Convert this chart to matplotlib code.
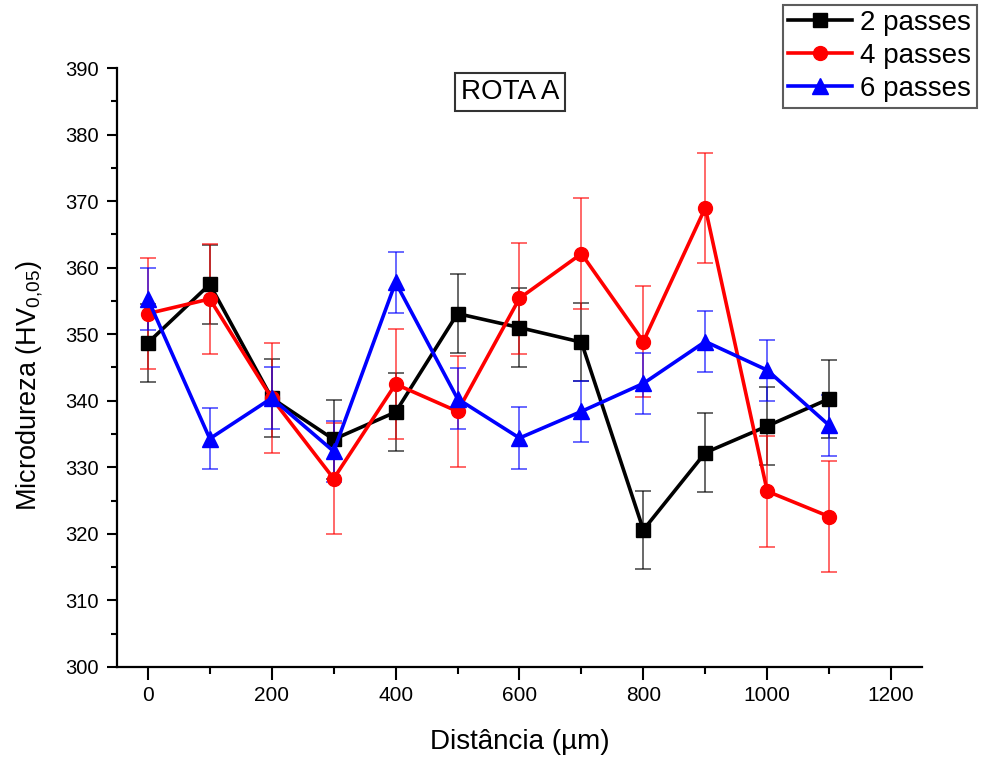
import numpy as np
import matplotlib
matplotlib.use("Agg")
import matplotlib.pyplot as plt
from matplotlib.ticker import MultipleLocator

plt.rcParams['font.family'] = ['Liberation Sans', 'DejaVu Sans']
plt.rcParams['mathtext.fontset'] = 'custom'
plt.rcParams['mathtext.rm'] = 'Liberation Sans'

# distance (um)
dist = [0, 100, 200, 300, 400, 500, 600, 700, 800, 900, 1000, 1100]

# microhardness HV0,05
hv_2 = [348.7, 357.5, 340.4, 334.2, 338.3, 353.1, 351.0, 348.8, 320.6, 332.2, 336.2, 340.3]
hv_4 = [353.1, 355.3, 340.4, 328.3, 342.5, 338.4, 355.4, 362.1, 348.9, 369.0, 326.4, 322.6]
hv_6 = [355.3, 334.3, 340.4, 332.4, 357.8, 340.3, 334.4, 338.4, 342.6, 348.9, 344.6, 336.3]

err_2 = [5.9] * 12
err_4 = [8.3] * 12
err_6 = [4.6] * 12

labels = ['2 passes', '4 passes', '6 passes']

fig = plt.figure(figsize=(9.82, 7.6), dpi=100)
ax = fig.add_axes([0.119, 0.1224, 0.820, 0.7881])

series = [
    (hv_2, err_2, 'black', 's', 9.5),
    (hv_4, err_4, 'red', 'o', 10),
    (hv_6, err_6, 'blue', '^', 11),
]
handles = []
for (y, e, c, m, ms), lab in zip(series, labels):
    h = ax.errorbar(dist, y, yerr=e, color=c, ecolor=c, marker=m, markersize=ms,
                    linewidth=2.6, elinewidth=1.1, capsize=5.5, capthick=1.1,
                    label=lab)
    for art in h[1] + h[2]:
        art.set_alpha(0.75)
    handles.append(h[0])

ax.set_xlim(-50, 1250)
ax.set_ylim(300, 390)
ax.xaxis.set_major_locator(MultipleLocator(200))
ax.xaxis.set_minor_locator(MultipleLocator(100))
ax.yaxis.set_major_locator(MultipleLocator(10))
ax.yaxis.set_minor_locator(MultipleLocator(5))

for s in ['top', 'right']:
    ax.spines[s].set_visible(False)
for s in ['left', 'bottom']:
    ax.spines[s].set_linewidth(1.6)

ax.tick_params(axis='x', which='major', length=9, width=1.5, labelsize=15, pad=5)
ax.tick_params(axis='x', which='minor', length=5, width=1.5)
ax.tick_params(axis='y', which='major', length=7, width=1.5, labelsize=14.5, pad=6)
ax.tick_params(axis='y', which='minor', length=4, width=1.5)
for t in ax.get_xticklabels():
    t.set_family(['Liberation Sans Narrow', 'Liberation Sans'])

ax.set_xlabel('Distância (µm)', fontsize=20, labelpad=17)
ax.set_ylabel(r'Microdureza (HV$_{\mathrm{0{,}05}}$)', fontsize=19.5)
ax.yaxis.set_label_coords(-0.089, 0.47)

ax.text(0.488, 0.96, 'ROTA A', transform=ax.transAxes, ha='center', va='center',
        fontsize=20, bbox=dict(boxstyle='square,pad=0.2', facecolor='white',
                               edgecolor='#333333', linewidth=1.5))

leg = fig.legend(handles, labels, loc='upper left', bbox_to_anchor=(0.797, 0.994),
                 fontsize=20, frameon=True, fancybox=False, handlelength=2.3,
                 handletextpad=0.3, borderpad=0.2, labelspacing=0.25,
                 borderaxespad=0)
leg.get_frame().set_edgecolor('#333333')
leg.get_frame().set_linewidth(1.5)

fig.savefig('out.png', dpi=100)
